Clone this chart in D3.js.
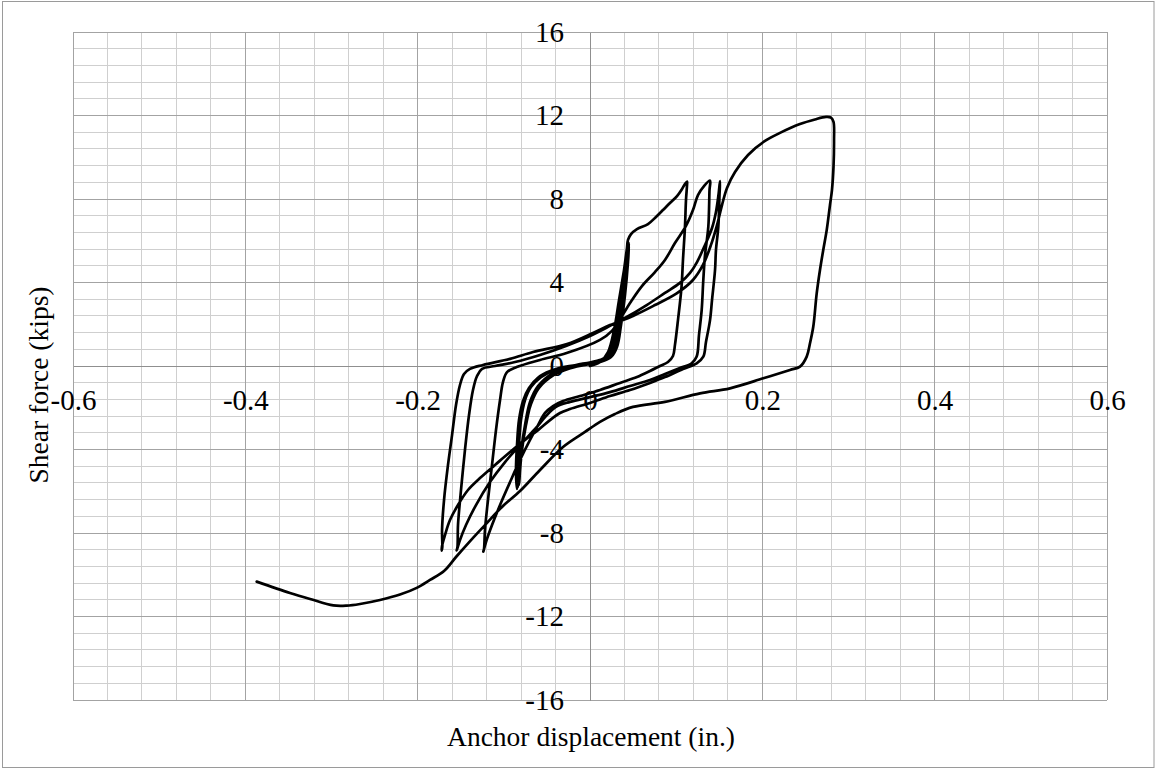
<!DOCTYPE html>
<html>
<head>
<meta charset="utf-8">
<script src="https://cdn.jsdelivr.net/npm/d3@7"></script>
<style>
  body { margin: 0; background: #ffffff; }
  svg { display: block; }
  text { font-family: "Liberation Serif", "Times New Roman", serif; fill: #000; }
</style>
</head>
<body>
<svg id="chart" width="1156" height="769"></svg>
<script>
// Axis ticks
const xTickValues = [-0.6, -0.4, -0.2, 0, 0.2, 0.4, 0.6];
const xTickLabels = ["-0.6", "-0.4", "-0.2", "0", "0.2", "0.4", "0.6"];
const yTickValues = [-16, -12, -8, -4, 0, 4, 8, 12, 16];
const yTickLabels = ["-16", "-12", "-8", "-4", "0", "4", "8", "12", "16"];
const xMinorStep = 0.04;
const yMinorStep = 0.8;

// Measured hysteresis: [anchor displacement (in.), shear force (kips)]
const virginLoading = [
  [0, 0], [0.0116, 0.19], [0.0209, 0.67], [0.0279, 1.72], [0.0337, 3.16], [0.0395, 4.60], [0.0429, 5.56]
];

const smallCycles = [
  // cycle 1
  [0.0418, 4.84], [0.0383, 3.40], [0.0337, 1.96], [0.0290, 1.01], [0.0209, 0.43], [0.0058, 0.19],
  [-0.0116, 0.05], [-0.0290, -0.14], [-0.0429, -0.38], [-0.0580, -0.91], [-0.0673, -1.63],
  [-0.0743, -2.83], [-0.0789, -4.02], [-0.0812, -4.98], [-0.0824, -5.70],
  [-0.0836, -4.98], [-0.0824, -3.78], [-0.0801, -2.59], [-0.0754, -1.63], [-0.0685, -1.01],
  [-0.0569, -0.53], [-0.0406, -0.19], [-0.0174, 0], [0.0058, 0.19], [0.0186, 0.38], [0.0255, 0.77],
  [0.0302, 1.72], [0.0348, 3.16], [0.0395, 4.60], [0.0441, 5.80],
  // cycle 2
  [0.0429, 4.98], [0.0395, 3.40], [0.0348, 1.96], [0.0302, 0.96], [0.0232, 0.48], [0.0093, 0.24],
  [-0.0081, 0.10], [-0.0267, -0.10], [-0.0429, -0.34], [-0.0603, -0.96], [-0.0696, -1.72],
  [-0.0754, -2.83], [-0.0801, -4.12], [-0.0824, -5.08], [-0.0836, -5.80],
  [-0.0847, -4.98], [-0.0836, -3.69], [-0.0812, -2.59], [-0.0766, -1.63], [-0.0696, -1.01],
  [-0.0580, -0.48], [-0.0395, -0.14], [-0.0162, 0.05], [0.0070, 0.24], [0.0197, 0.43], [0.0267, 0.86],
  [0.0313, 1.82], [0.0360, 3.26], [0.0406, 4.69], [0.0453, 5.89],
  // cycle 3
  [0.0441, 4.98], [0.0406, 3.40], [0.0360, 1.96], [0.0313, 0.91], [0.0244, 0.43], [0.0116, 0.19],
  [-0.0058, 0.05], [-0.0255, -0.14], [-0.0418, -0.43], [-0.0592, -1.05], [-0.0685, -1.82],
  [-0.0754, -2.97], [-0.0801, -4.26], [-0.0824, -5.22], [-0.0847, -5.89],
  [-0.0859, -4.98], [-0.0847, -3.78], [-0.0824, -2.59], [-0.0778, -1.68], [-0.0708, -1.05],
  [-0.0603, -0.57], [-0.0441, -0.24], [-0.0209, 0], [0.0046, 0.19], [0.0186, 0.43], [0.0255, 0.81],
  [0.0302, 1.72], [0.0348, 3.16], [0.0395, 4.60], [0.0429, 5.65]
];

const cycleA = [
  [0.0441, 6.04], [0.0476, 6.32], [0.0545, 6.56], [0.0673, 6.80], [0.0766, 7.14], [0.0847, 7.47],
  [0.0928, 7.81], [0.1010, 8.14], [0.1068, 8.48], [0.1102, 8.72], [0.1126, 8.84],
  [0.1126, 8.67], [0.1114, 7.95], [0.1102, 6.66], [0.1079, 5.08], [0.1062, 3.78], [0.1021, 2.20],
  [0.0986, 1.01], [0.0963, 0.48], [0.0905, 0.19], [0.0812, 0], [0.0696, -0.24], [0.0545, -0.53],
  [0.0348, -0.81], [0.0116, -1.15], [-0.0116, -1.44], [-0.0313, -1.68], [-0.0429, -1.92],
  [-0.0522, -2.25], [-0.0603, -2.83], [-0.0696, -3.54], [-0.0812, -4.50], [-0.0928, -5.56],
  [-0.1044, -6.66], [-0.1137, -7.62], [-0.1207, -8.43], [-0.1238, -8.89],
  [-0.1230, -8.77], [-0.1219, -7.86], [-0.1184, -6.42], [-0.1137, -4.74], [-0.1091, -3.07],
  [-0.1044, -1.63], [-0.1010, -0.77], [-0.0963, -0.29], [-0.0851, -0.05], [-0.0580, 0.29],
  [-0.0271, 0.62], [0.0116, 1.25]
];

const cycleB = [
  [0.0255, 1.68], [0.0371, 2.40], [0.0487, 3.16], [0.0603, 3.83], [0.0754, 4.50], [0.0870, 5.08],
  [0.0986, 5.89], [0.1114, 6.71], [0.1195, 7.47], [0.1253, 8.19], [0.1323, 8.62], [0.1393, 8.88],
  [0.1387, 8.43], [0.1373, 6.66], [0.1335, 5.32], [0.1315, 4.12], [0.1296, 2.68], [0.1265, 1.49],
  [0.1238, 0.45], [0.1180, 0.13], [0.1044, -0.10], [0.0870, -0.38], [0.0696, -0.67], [0.0464, -0.96],
  [0.0232, -1.25], [0, -1.49], [-0.0232, -1.72], [-0.0395, -1.96], [-0.0511, -2.40], [-0.0627, -2.97],
  [-0.0789, -3.69], [-0.0986, -4.60], [-0.1161, -5.56], [-0.1323, -6.66], [-0.1439, -7.62],
  [-0.1509, -8.34], [-0.1547, -8.84],
  [-0.1538, -8.67], [-0.1532, -7.62], [-0.1497, -5.94], [-0.1451, -4.02], [-0.1404, -2.35],
  [-0.1358, -1.15], [-0.1311, -0.48], [-0.1253, -0.14], [-0.1102, 0], [-0.0870, 0.19],
  [-0.0580, 0.53], [-0.0279, 0.96], [0, 1.44], [0.0232, 1.92], [0.0406, 2.30]
];

const cycleC = [
  [0.0658, 2.92], [0.0870, 3.50], [0.1044, 3.98], [0.1161, 4.46], [0.1242, 4.98], [0.1335, 5.80],
  [0.1416, 6.61], [0.1462, 7.38], [0.1491, 8.19], [0.1509, 8.86],
  [0.1503, 8.19], [0.1489, 6.66], [0.1462, 5.56], [0.1451, 4.60], [0.1416, 3.16], [0.1393, 2.20],
  [0.1346, 1.15], [0.1315, 0.45], [0.1238, 0.13], [0.1079, -0.14], [0.0870, -0.53], [0.0696, -0.81],
  [0.0464, -1.15], [0.0232, -1.44], [0, -1.77], [-0.0232, -2.06], [-0.0348, -2.25],
  [-0.0464, -2.59], [-0.0603, -3.07], [-0.0754, -3.54], [-0.0928, -4.12], [-0.1102, -4.74],
  [-0.1277, -5.37], [-0.1416, -5.94], [-0.1532, -6.66], [-0.1625, -7.38], [-0.1683, -8.10],
  [-0.1717, -8.62], [-0.1721, -8.84],
  [-0.1714, -8.67], [-0.1717, -7.86], [-0.1694, -6.42], [-0.1648, -4.74], [-0.1601, -3.31],
  [-0.1555, -1.87], [-0.1509, -0.91], [-0.1462, -0.38], [-0.1393, -0.14], [-0.1242, 0.05],
  [-0.0928, 0.34], [-0.0661, 0.67], [-0.0267, 1.05], [0.0035, 1.58], [0.0232, 1.96]
];

const finalCycle = [
  [0.0499, 2.40], [0.0754, 2.92], [0.1006, 3.48], [0.1195, 4.12], [0.1311, 4.84], [0.1404, 5.80],
  [0.1474, 6.75], [0.1532, 7.71], [0.1590, 8.53], [0.1683, 9.29], [0.1834, 10.11], [0.2031, 10.78],
  [0.2217, 11.19], [0.2437, 11.59], [0.2611, 11.81], [0.2739, 11.93], [0.2797, 11.90],
  [0.2826, 11.69], [0.2832, 10.83], [0.2826, 9.55], [0.2808, 8.43], [0.2785, 7.71], [0.2747, 6.51],
  [0.2707, 5.56], [0.2669, 4.60], [0.2631, 3.48], [0.2591, 1.88], [0.2553, 1.09], [0.2515, 0.45],
  [0.2437, -0.03], [0.2321, -0.19], [0.2011, -0.59], [0.1625, -1.07], [0.1277, -1.31],
  [0.0870, -1.72], [0.0499, -1.96], [0.0290, -2.30], [0.0116, -2.68], [-0.0058, -3.16],
  [-0.0313, -3.88], [-0.0580, -4.98], [-0.0812, -5.99], [-0.1021, -6.75], [-0.1219, -7.62],
  [-0.1381, -8.34], [-0.1555, -9.15], [-0.1694, -9.82], [-0.1857, -10.25], [-0.2011, -10.63],
  [-0.2205, -10.95], [-0.2437, -11.21], [-0.2669, -11.40], [-0.2824, -11.48], [-0.2979, -11.47],
  [-0.3249, -11.16], [-0.3482, -10.87], [-0.3868, -10.33]
];

const loadPath = [].concat(virginLoading, smallCycles, cycleA, cycleB, cycleC, finalCycle);

// Layout
const W = 1156, H = 769;
const plot = { left: 73, right: 1107, top: 32, bottom: 700 };
const tickFontSize = 29;
const titleFontSize = 27.5;

const svg = d3.select("#chart");

const x = d3.scaleLinear().domain([-0.6, 0.6]).range([plot.left, plot.right]);
const y = d3.scaleLinear().domain([-16, 16]).range([plot.bottom, plot.top]);

// Chart frame
svg.append("rect")
  .attr("x", 2.5).attr("y", 1.5)
  .attr("width", W - 4.5).attr("height", H - 3)
  .attr("fill", "#ffffff")
  .attr("stroke", "#9a9a9a")
  .attr("stroke-width", 1);

// Gridlines
const isMajor = (v, step) => Math.abs(v / step - Math.round(v / step)) < 1e-6;
const xMinor = d3.range(0, 31).map(i => +(-0.6 + i * xMinorStep).toFixed(4)).filter(v => !isMajor(v, 0.2));
const yMinor = d3.range(0, 41).map(i => +(-16 + i * yMinorStep).toFixed(4)).filter(v => !isMajor(v, 4));

const grid = svg.append("g").attr("shape-rendering", "crispEdges");
grid.selectAll("line.xminor").data(xMinor).join("line")
  .attr("x1", d => x(d)).attr("x2", d => x(d))
  .attr("y1", plot.top).attr("y2", plot.bottom)
  .attr("stroke", "#cfcfcf");
grid.selectAll("line.yminor").data(yMinor).join("line")
  .attr("y1", d => y(d)).attr("y2", d => y(d))
  .attr("x1", plot.left).attr("x2", plot.right)
  .attr("stroke", "#cfcfcf");
grid.selectAll("line.xmajor").data(xTickValues).join("line")
  .attr("x1", d => x(d)).attr("x2", d => x(d))
  .attr("y1", plot.top).attr("y2", plot.bottom)
  .attr("stroke", "#a3a3a3");
grid.selectAll("line.ymajor").data(yTickValues).join("line")
  .attr("y1", d => y(d)).attr("y2", d => y(d))
  .attr("x1", plot.left).attr("x2", plot.right)
  .attr("stroke", "#a3a3a3");

// Axes crossing at the origin
const xAxis = d3.axisBottom(x)
  .tickValues(xTickValues)
  .tickFormat((d, i) => xTickLabels[i])
  .tickSize(0).tickPadding(23.5);
const yAxis = d3.axisLeft(y)
  .tickValues(yTickValues)
  .tickFormat((d, i) => yTickLabels[i])
  .tickSize(0).tickPadding(26);

const gx = svg.append("g").attr("transform", `translate(0,${y(0)})`).call(xAxis);
const gy = svg.append("g").attr("transform", `translate(${x(0)},0)`).call(yAxis);
[gx, gy].forEach(g => {
  g.select(".domain").attr("stroke", "#8f8f8f").attr("shape-rendering", "crispEdges");
  g.selectAll("text")
    .attr("font-family", "Liberation Serif, Times New Roman, serif")
    .attr("font-size", tickFontSize).attr("fill", "#000");
});

// Hysteresis curve
const line = d3.line()
  .x(d => x(d[0]))
  .y(d => y(d[1]))
  .curve(d3.curveCatmullRom.alpha(0.5));

svg.append("path")
  .datum(loadPath)
  .attr("d", line)
  .attr("fill", "none")
  .attr("stroke", "#000")
  .attr("stroke-width", 2.7)
  .attr("stroke-linejoin", "round")
  .attr("stroke-linecap", "round");

// Axis titles
svg.append("text")
  .attr("x", (plot.left + plot.right) / 2 + 1)
  .attr("y", 746)
  .attr("text-anchor", "middle")
  .attr("font-size", titleFontSize)
  .text("Anchor displacement (in.)");

svg.append("text")
  .attr("transform", `translate(48,385) rotate(-90)`)
  .attr("text-anchor", "middle")
  .attr("font-size", titleFontSize)
  .text("Shear force (kips)");
</script>
</body>
</html>
